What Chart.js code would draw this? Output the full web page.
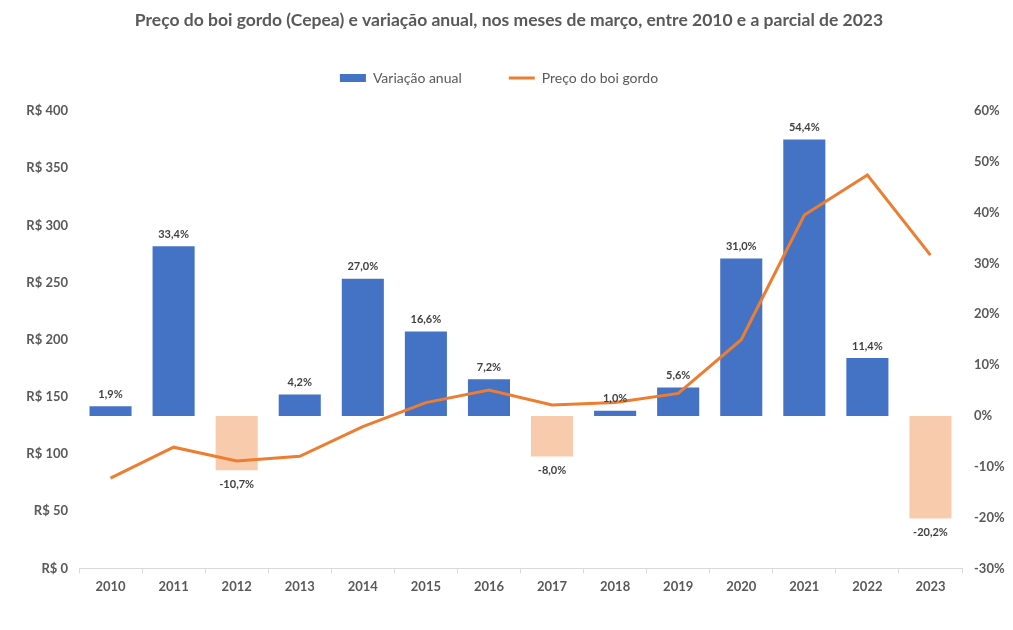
<!DOCTYPE html>
<html>
<head>
<meta charset="utf-8">
<script src="https://cdn.jsdelivr.net/npm/chart.js@4/dist/chart.umd.min.js"></script>
<style>
  html, body { margin: 0; padding: 0; background: #fff; }
  #wrap { width: 1013px; height: 630px; }
</style>
</head>
<body>
<div id="wrap"><canvas id="chart"></canvas></div>
<script>
const anos = ['2010','2011','2012','2013','2014','2015','2016','2017','2018','2019','2020','2021','2022','2023'];
// variação anual (%)
const variacao = [1.9, 33.4, -10.7, 4.2, 27.0, 16.6, 7.2, -8.0, 1.0, 5.6, 31.0, 54.4, 11.4, -20.2];
// preço do boi gordo (R$)
const preco = [79, 106, 94, 98, 124, 145, 156, 143, 145, 153, 200, 309, 344, 274];

const AZUL = '#4472C4';
const PESSEGO = '#F8CBAD';
const LARANJA = '#ED7D31';
const CINZA = '#595959';
const FONTE = 'Lato, "Open Sans", sans-serif';

// rótulos de dados das barras
const rotulos = {
  id: 'rotulos',
  afterDatasetsDraw(chart) {
    const meta = chart.getDatasetMeta(0);
    const ctx = chart.ctx;
    ctx.save();
    ctx.font = 'bold 11px ' + FONTE;
    ctx.fillStyle = '#404040';
    ctx.textAlign = 'center';
    ctx.textBaseline = 'middle';
    meta.data.forEach((bar, i) => {
      const v = variacao[i];
      const txt = v.toFixed(1).replace('.', ',') + '%';
      const y = v >= 0 ? bar.y - 12 : bar.y + 14;
      ctx.fillText(txt, bar.x, y);
    });
    ctx.restore();
  }
};

// espaço extra abaixo da legenda e ajuste horizontal
const ajusteLegenda = {
  id: 'ajusteLegenda',
  afterInit(chart) {
    const lg = chart.legend;
    const fit = lg.fit;
    lg.fit = function () { fit.call(this); this.height += 16; };
  },
  afterLayout(chart) {
    chart.legend.left -= 10;
    chart.legend.right -= 10;
  }
};

new Chart(document.getElementById('chart'), {
  data: {
    labels: anos,
    datasets: [
      {
        type: 'bar',
        label: 'Variação anual',
        data: variacao,
        yAxisID: 'y1',
        backgroundColor: variacao.map(v => v < 0 ? PESSEGO : AZUL),
        barPercentage: 0.667,
        categoryPercentage: 1,
        order: 1
      },
      {
        type: 'line',
        label: 'Preço do boi gordo',
        data: preco,
        yAxisID: 'y',
        borderColor: LARANJA,
        borderWidth: 3,
        pointRadius: 0,
        tension: 0,
        order: 0
      }
    ]
  },
  options: {
    responsive: true,
    maintainAspectRatio: false,
    animation: false,
    layout: { padding: { left: 5, right: 0, top: 10, bottom: 29 } },
    plugins: {
      title: {
        display: true,
        text: 'Preço do boi gordo (Cepea) e variação anual, nos meses de março, entre 2010 e a parcial de 2023',
        color: CINZA,
        font: { family: FONTE, size: 17.5, weight: 'bold' },
        padding: { top: 0, bottom: -7 }
      },
      legend: {
        display: true,
        labels: {
          color: CINZA,
          font: { family: FONTE, size: 14 },
          usePointStyle: true,
          pointStyleWidth: 26,
          boxHeight: 8,
          padding: 47,
          generateLabels: () => [
            { text: 'Variação anual', fillStyle: AZUL, strokeStyle: AZUL, lineWidth: 0, pointStyle: 'rect', fontColor: CINZA, datasetIndex: 0 },
            { text: 'Preço do boi gordo', fillStyle: LARANJA, strokeStyle: LARANJA, lineWidth: 3, pointStyle: 'line', fontColor: CINZA, datasetIndex: 1 }
          ]
        }
      },
      tooltip: { enabled: false }
    },
    scales: {
      x: {
        offset: true,
        grid: { display: true, drawOnChartArea: false, drawTicks: true, tickLength: 5, offset: true, color: '#D9D9D9' },
        border: { color: '#D9D9D9' },
        ticks: { color: CINZA, font: { family: FONTE, size: 13, weight: 'bold' }, padding: 6 }
      },
      y: {
        position: 'left',
        min: 0,
        max: 400,
        grid: { display: false },
        border: { display: false },
        ticks: {
          stepSize: 50,
          color: CINZA,
          font: { family: FONTE, size: 13, weight: 'bold' },
          callback: v => 'R$ ' + v
        },
        afterFit: s => { s.width = 74; }
      },
      y1: {
        position: 'right',
        min: -30,
        max: 60,
        grid: { display: false },
        border: { display: false },
        ticks: {
          stepSize: 10,
          color: CINZA,
          font: { family: FONTE, size: 13, weight: 'bold' },
          padding: 4,
          callback: v => v + '%'
        },
        afterFit: s => { s.width = 51; }
      }
    }
  },
  plugins: [rotulos, ajusteLegenda]
});
</script>
</body>
</html>
